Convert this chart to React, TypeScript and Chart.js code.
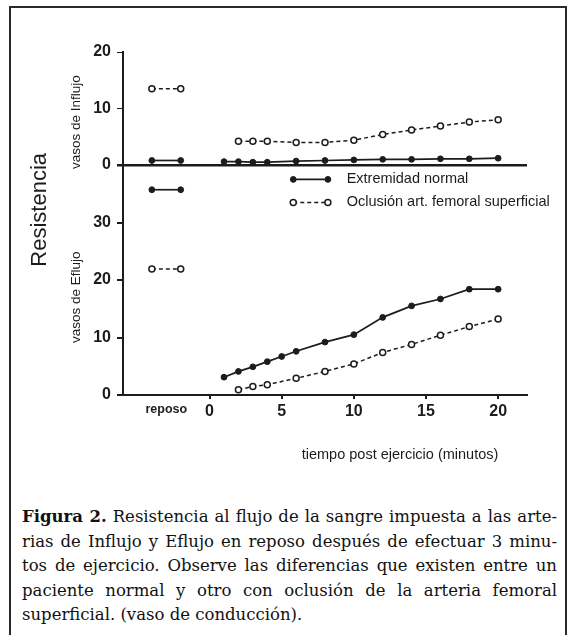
import React, { useEffect, useRef } from 'react';
import { Chart, registerables } from 'chart.js';

Chart.register(...registerables);

// ---- data ----
const xReposo = [-4, -2];
const reposoTick = -3;
const reposoLabel = 'reposo';
const xTicks = [0, 5, 10, 15, 20];

const xInflujoNormal = [1, 2, 3, 4, 6, 8, 10, 12, 14, 16, 18, 20];
const influjoNormalReposo = [0.8, 0.8];
const influjoNormal = [0.6, 0.6, 0.5, 0.5, 0.7, 0.8, 0.9, 1.0, 1.0, 1.1, 1.1, 1.2];

const xInflujoOclusion = [2, 3, 4, 6, 8, 10, 12, 14, 16, 18, 20];
const influjoOclusionReposo = [13.5, 13.5];
const influjoOclusion = [4.2, 4.2, 4.2, 4.0, 4.0, 4.4, 5.4, 6.2, 6.9, 7.6, 8.0];

const xEflujoNormal = [1, 2, 3, 4, 5, 6, 8, 10, 12, 14, 16, 18, 20];
const eflujoNormalReposo = [35.7, 35.7];
const eflujoNormal = [3.1, 4.1, 4.9, 5.8, 6.7, 7.6, 9.2, 10.5, 13.5, 15.5, 16.7, 18.4, 18.4];

const xEflujoOclusion = [2, 3, 4, 6, 8, 10, 12, 14, 16, 18, 20];
const eflujoOclusionReposo = [21.9, 21.9];
const eflujoOclusion = [0.9, 1.5, 1.8, 2.9, 4.1, 5.4, 7.4, 8.8, 10.4, 11.9, 13.2];

const seriesLabels = ['Extremidad normal', 'Oclusión art. femoral superficial'];
const yTitle = 'Resistencia';
const influjoTitle = 'vasos de Influjo';
const eflujoTitle = 'vasos de Eflujo';
const xTitle = 'tiempo post ejercicio (minutos)';

const captionLines = [
  'Resistencia al flujo de la sangre impuesta a las arte-',
  'rias de Influjo y Eflujo en reposo después de efectuar 3 minu-',
  'tos de ejercicio. Observe las diferencias que existen entre un',
  'paciente normal y otro con oclusión de la arteria femoral',
  'superficial. (vaso de conducción).',
];
const captionBold = 'Figura 2.';

// ---- styles ----
const INK = '#1c1c1c';
const SANS = '"Liberation Sans", Arial, sans-serif';
const DASH = [4, 3];

const pts = (xs: number[], ys: number[]) => xs.map((x, i) => ({ x, y: ys[i] }));

function normalDs(label: string, data: any[], axis: string) {
  return {
    label, data, yAxisID: axis,
    borderColor: INK, backgroundColor: INK, borderWidth: 1.7,
    pointRadius: 2.9, pointBackgroundColor: INK, pointBorderColor: INK, pointBorderWidth: 1,
    tension: 0, fill: false,
  };
}
function oclusionDs(label: string, data: any[], axis: string) {
  return {
    label, data, yAxisID: axis,
    borderColor: INK, backgroundColor: '#ffffff', borderWidth: 1.5, borderDash: DASH,
    pointRadius: 3, pointBackgroundColor: '#ffffff', pointBorderColor: INK, pointBorderWidth: 1.5,
    tension: 0, fill: false,
  };
}

const textPlugin = {
  id: 'figureText',
  afterDraw(chart: any) {
    const { ctx, chartArea, scales } = chart;
    const yI = scales.yI, yE = scales.yE, x = scales.x;
    ctx.save();
    ctx.fillStyle = INK;
    ctx.textAlign = 'center';
    ctx.textBaseline = 'middle';

    // main y title
    ctx.save();
    ctx.translate(chartArea.left - 83, yE.getPixelForValue(32.2));
    ctx.rotate(-Math.PI / 2);
    ctx.font = `22px ${SANS}`;
    ctx.fillText(yTitle, 0, 0);
    ctx.restore();

    // panel titles
    ctx.font = `13.5px ${SANS}`;
    ctx.save();
    ctx.translate(chartArea.left - 47, yI.getPixelForValue(7.6));
    ctx.rotate(-Math.PI / 2);
    ctx.fillText(influjoTitle, 0, 0);
    ctx.restore();
    ctx.save();
    ctx.translate(chartArea.left - 47, yE.getPixelForValue(17));
    ctx.rotate(-Math.PI / 2);
    ctx.fillText(eflujoTitle, 0, 0);
    ctx.restore();

    // x title
    ctx.font = `14.5px ${SANS}`;
    ctx.fillText(xTitle, x.getPixelForValue(13.2), chartArea.bottom + 60);

    // legend
    const lx0 = x.getPixelForValue(5.8), lx1 = x.getPixelForValue(8.2);
    const tx = x.getPixelForValue(9.5);
    const ly = [yE.getPixelForValue(37.5), yE.getPixelForValue(33.5)];
    ctx.textAlign = 'left';
    ctx.font = `14.5px ${SANS}`;
    for (let i = 0; i < 2; i++) {
      ctx.save();
      ctx.strokeStyle = INK;
      ctx.lineWidth = i === 0 ? 1.7 : 1.5;
      ctx.setLineDash(i === 0 ? [] : DASH);
      ctx.beginPath();
      ctx.moveTo(lx0, ly[i]);
      ctx.lineTo(lx1, ly[i]);
      ctx.stroke();
      ctx.setLineDash([]);
      for (const px of [lx0, lx1]) {
        ctx.beginPath();
        ctx.arc(px, ly[i], i === 0 ? 2.9 : 3, 0, Math.PI * 2);
        ctx.fillStyle = i === 0 ? INK : '#ffffff';
        ctx.fill();
        ctx.lineWidth = i === 0 ? 1 : 1.5;
        ctx.stroke();
      }
      ctx.restore();
      ctx.fillStyle = INK;
      ctx.fillText(seriesLabels[i], tx, ly[i]);
    }
    ctx.restore();
  },
};

export default function App() {
  const ref = useRef<HTMLCanvasElement>(null);

  useEffect(() => {
    if (!ref.current) return;
    const tickFont = { family: SANS, size: 16, weight: 'bold' };
    const chart = new Chart(ref.current, {
      type: 'line',
      data: {
        datasets: [
          normalDs(seriesLabels[0], pts(xReposo, eflujoNormalReposo), 'yE'),
          normalDs(seriesLabels[0], pts(xEflujoNormal, eflujoNormal), 'yE'),
          oclusionDs(seriesLabels[1], pts(xReposo, eflujoOclusionReposo), 'yE'),
          oclusionDs(seriesLabels[1], pts(xEflujoOclusion, eflujoOclusion), 'yE'),
          normalDs(seriesLabels[0], pts(xReposo, influjoNormalReposo), 'yI'),
          normalDs(seriesLabels[0], pts(xInflujoNormal, influjoNormal), 'yI'),
          oclusionDs(seriesLabels[1], pts(xReposo, influjoOclusionReposo), 'yI'),
          oclusionDs(seriesLabels[1], pts(xInflujoOclusion, influjoOclusion), 'yI'),
        ] as any,
      },
      options: {
        animation: false,
        responsive: false,
        layout: { padding: { top: 52, right: 45, left: 0, bottom: 45 } },
        plugins: { legend: { display: false }, tooltip: { enabled: false }, title: { display: false } },
        scales: {
          x: {
            type: 'linear', min: -6, max: 22,
            afterBuildTicks: (s: any) => { s.ticks = [reposoTick, ...xTicks].map((v) => ({ value: v })); },
            afterFit: (s: any) => { s.height = 30; },
            ticks: {
              autoSkip: false, maxRotation: 0, padding: 3, color: INK,
              callback: (v: any) => (v === reposoTick ? reposoLabel : String(v)),
              font: (c: any) => (c.tick && c.tick.value === reposoTick
                ? { family: SANS, size: 12.5, weight: 'bold' }
                : tickFont),
            },
            grid: {
              drawOnChartArea: false, tickLength: 4, lineWidth: 2,
              tickColor: (c: any) => (c.tick && c.tick.value === reposoTick ? 'rgba(0,0,0,0)' : INK),
            },
            border: { color: INK, width: 2 },
          },
          yE: {
            type: 'linear', position: 'left', stack: 'res', stackWeight: 230,
            min: 0, max: 40,
            afterFit: (s: any) => { s.width = 123; },
            ticks: {
              stepSize: 5, color: INK, font: tickFont, padding: 6,
              callback: (v: any) => (v % 10 === 0 && v < 40 ? String(v) : ''),
            },
            grid: { drawOnChartArea: false, tickLength: 6, tickColor: INK, lineWidth: 2 },
            border: { color: INK, width: 2 },
          },
          yI: {
            type: 'linear', position: 'left', stack: 'res', stackWeight: 113,
            min: 0, max: 20,
            afterFit: (s: any) => { s.width = 123; },
            ticks: {
              stepSize: 5, color: INK, font: tickFont, padding: 6,
              callback: (v: any) => (v % 10 === 0 ? String(v) : ''),
            },
            grid: {
              drawOnChartArea: true, tickLength: 6, tickColor: INK,
              color: (c: any) => (c.tick && c.tick.value === 0 ? INK : 'rgba(0,0,0,0)'),
              lineWidth: (c: any) => (c.tick && c.tick.value === 0 ? 2.5 : 1),
            },
            border: { color: INK, width: 2 },
          },
        } as any,
      },
      plugins: [textPlugin],
    });
    return () => chart.destroy();
  }, []);

  return (
    <div style={{ position: 'absolute', left: 0, top: 0, width: 572, height: 635, overflow: 'hidden', background: '#fff' }}>
      <div style={{ position: 'absolute', left: 9, top: 6, width: 558, height: 700, border: '2px solid #2a2a2a', boxSizing: 'border-box' }} />
      <canvas ref={ref} width={572} height={470} style={{ position: 'absolute', left: 0, top: 0 }} />
      <div style={{ position: 'absolute', left: 22, top: 505, width: 535, fontFamily: '"DejaVu Serif", serif', fontSize: 16.5, lineHeight: '24.5px', color: '#111' }}>
        {captionLines.map((line, i) => (
          <div key={i} style={{ textAlign: 'justify', textAlignLast: i < captionLines.length - 1 ? 'justify' : 'left', whiteSpace: 'nowrap', overflow: 'visible' }}>
            {i === 0 ? <><b>{captionBold}</b>{' '}{line}</> : line}
          </div>
        ))}
      </div>
    </div>
  );
}
